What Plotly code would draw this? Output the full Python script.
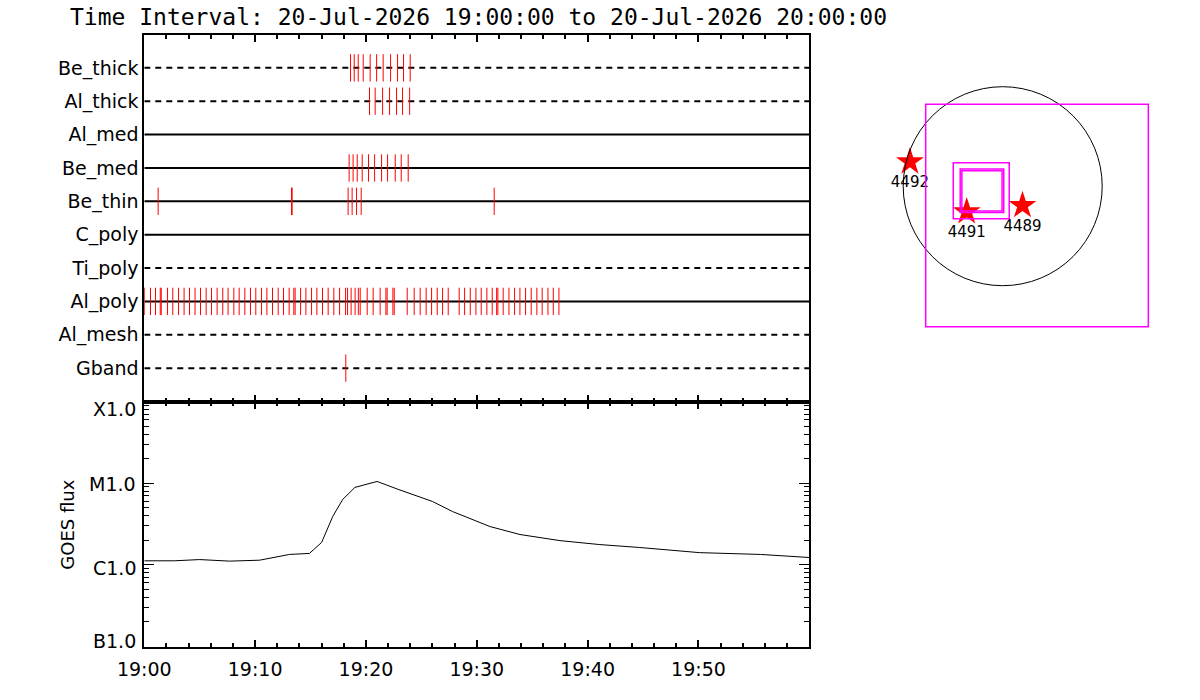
import math
import plotly.graph_objects as go

# ---------------- data ----------------
title_text = "Time Interval: 20-Jul-2026 19:00:00 to 20-Jul-2026 20:00:00"
channels = ["Be_thick", "Al_thick", "Al_med", "Be_med", "Be_thin",
            "C_poly", "Ti_poly", "Al_poly", "Al_mesh", "Gband"]

# event times, minutes after 19:00
ev_be_thick = [18.61, 18.94, 19.30, 19.75, 20.38, 20.96, 21.55, 22.22, 22.85, 23.39, 23.99]
ev_al_thick = [20.32, 20.83, 21.50, 22.13, 22.76, 23.30, 23.94]
ev_al_med = []
ev_be_med = [18.48, 18.84, 19.21, 19.66, 20.23, 20.78, 21.41, 21.95, 22.64, 23.18, 23.81]
ev_be_thin = [1.25, 13.28, 13.34, 18.39, 18.75, 19.15, 19.57, 31.57]
ev_c_poly = []
ev_ti_poly = []
ev_al_poly = [0.02, 0.56, 1.01, 1.44, 1.53, 2.09, 2.57, 3.09, 3.59, 4.08, 4.58, 5.07,
              5.58, 6.06, 6.57, 7.08, 7.56, 8.08, 8.56, 9.07, 9.58, 10.06, 10.58,
              11.06, 11.57, 12.08, 12.56, 13.07, 13.49, 13.61, 14.10, 14.58, 15.09,
              15.57, 16.08, 16.59, 17.10, 17.62, 18.16, 18.34, 18.66, 19.02, 19.31,
              19.48, 20.11, 20.65, 21.28, 21.80, 21.91, 22.43, 22.55, 23.72, 24.35,
              24.89, 25.43, 25.92, 26.43, 26.91, 27.42, 28.41, 28.90, 29.41, 29.92,
              30.40, 30.91, 31.39, 31.79, 31.90, 32.38, 32.90, 33.41, 33.89, 34.40,
              34.91, 35.42, 35.90, 36.42, 36.90, 37.41]
ev_al_mesh = []
ev_gband = [18.18]

events = [ev_be_thick, ev_al_thick, ev_al_med, ev_be_med, ev_be_thin,
          ev_c_poly, ev_ti_poly, ev_al_poly, ev_al_mesh, ev_gband]

# GOES flux
goes_t = [0, 2.7, 5.0, 7.7, 10.4, 13.1, 14.9, 16.0, 17.0, 17.9, 19.0, 21.0,
          22.9, 26.0, 27.8, 31.2, 33.9, 37.5, 41.1, 44.7, 50.1, 55.6, 60]
goes_flux = [1.12e-6, 1.12e-6, 1.16e-6, 1.11e-6, 1.14e-6, 1.34e-6, 1.38e-6,
             1.88e-6, 3.91e-6, 6.32e-6, 8.87e-6, 1.05e-5, 8.40e-6, 5.97e-6,
             4.50e-6, 2.94e-6, 2.35e-6, 1.98e-6, 1.77e-6, 1.63e-6, 1.41e-6,
             1.34e-6, 1.23e-6]

time_tick_vals = [0, 10, 20, 30, 40, 50]
time_tick_text = ["19:00", "19:10", "19:20", "19:30", "19:40", "19:50"]
goes_tick_vals = [1e-7, 1e-6, 1e-5, 1e-4]
goes_tick_text = ["B1.0", "C1.0", "M1.0", "X1.0"]

# solar map (arcsec)
sun_radius = 960
fov_center = (331, -283)
fov_size = 2148
box_centers = [(-207, -44), (-200, -43), (-200, -45)]
box_sizes = [540, 420, 388]
ar_numbers = ["4492", "4491", "4489"]
ar_x = [-895, -347, 191]
ar_y = [236, -246, -186]

# ---------------- styles / layout ----------------
row_dash = ["6px,5px", "6px,5px", "solid", "solid", "solid",
            "solid", "6px,5px", "solid", "6px,5px", "6px,5px"]
goes_label_shift = [6, -3, -1, -7]   # IDL keeps end labels inside the axis
FONT = "DejaVu Sans"
W, H = 1200, 700


def fx(px):
    return px / W


def fy(py):
    return 1 - py / H


px_x0, px_x1 = 144.3, 809.3
py_top, py_mid, py_bot = 34.5, 401.5, 646.5

xdom = [fx(px_x0), fx(px_x1)]
ydom_top = [fy(py_mid), fy(py_top)]
ydom_goes = [fy(py_bot), fy(py_mid)]

fig = go.Figure()

for k, name in enumerate(channels):
    fig.add_trace(go.Scatter(x=[0, 60], y=[k, k], mode="lines",
                             line=dict(color="black", width=2, dash=row_dash[k]),
                             xaxis="x", yaxis="y", showlegend=False, hoverinfo="skip"))
    xs, ys = [], []
    for t in events[k]:
        xs += [t, t, None]
        ys += [k - 0.41, k + 0.41, None]
    if xs:
        fig.add_trace(go.Scatter(x=xs, y=ys, mode="lines",
                                 line=dict(color="#ff0000", width=1),
                                 xaxis="x", yaxis="y", showlegend=False, hoverinfo="skip"))

fig.add_trace(go.Scatter(x=goes_t, y=goes_flux, mode="lines",
                         line=dict(color="black", width=1),
                         xaxis="x2", yaxis="y2", showlegend=False))

fig.add_trace(go.Scatter(x=ar_x, y=ar_y, mode="markers+text", text=ar_numbers,
                         textposition="bottom center",
                         textfont=dict(family=FONT, size=15, color="black"),
                         marker=dict(symbol="star", size=21, color="#ff0000",
                                     line=dict(width=0)),
                         xaxis="x3", yaxis="y3", showlegend=False))

shapes = [dict(type="circle", xref="x3", yref="y3",
               x0=-sun_radius, x1=sun_radius, y0=-sun_radius, y1=sun_radius,
               line=dict(color="black", width=1))]
shapes.append(dict(type="rect", xref="x3", yref="y3",
                   x0=fov_center[0] - fov_size / 2, x1=fov_center[0] + fov_size / 2,
                   y0=fov_center[1] - fov_size / 2, y1=fov_center[1] + fov_size / 2,
                   line=dict(color="#ff00ff", width=1.5)))
for (cx, cy), s in zip(box_centers, box_sizes):
    shapes.append(dict(type="rect", xref="x3", yref="y3",
                       x0=cx - s / 2, x1=cx + s / 2, y0=cy - s / 2, y1=cy + s / 2,
                       line=dict(color="#ff00ff", width=1.5)))

tickfont = dict(family=FONT, size=19, color="black")
common_x = dict(domain=xdom, range=[0, 60], showline=True, linewidth=2, linecolor="black",
                mirror="ticks", ticks="inside", ticklen=7, tickwidth=2, tickcolor="black",
                showgrid=False, zeroline=False, tickvals=time_tick_vals,
                minor=dict(ticks="inside", ticklen=4, tickwidth=2, tickcolor="black",
                           dtick=2, tick0=0, showgrid=False),
                automargin=False, tickfont=tickfont)

# right panel coordinate range (equal scale, arcsec per pixel)
scale = 9.648
map_px = (880, 1180, 60, 360)
map_dom_x = [fx(map_px[0]), fx(map_px[1])]
map_dom_y = [fy(map_px[3]), fy(map_px[2])]
map_xr = [(map_px[0] - 1002.7) * scale, (map_px[1] - 1002.7) * scale]
map_yr = [(186.2 - map_px[3]) * scale, (186.2 - map_px[2]) * scale]

annotations = [
    dict(text=title_text, xref="paper", yref="paper", x=fx(68), y=fy(17),
         xanchor="left", yanchor="middle", showarrow=False,
         font=dict(family="DejaVu Sans Mono", size=23, color="black")),
    dict(text="GOES flux", xref="paper", yref="paper", x=fx(66.7), y=fy(525),
         xanchor="center", yanchor="middle", textangle=-90, showarrow=False,
         font=dict(family=FONT, size=18, color="black")),
]
for v, txt, sh in zip(goes_tick_vals, goes_tick_text, goes_label_shift):
    annotations.append(dict(text=txt, xref="paper", yref="y2", x=fx(px_x0 - 6),
                            y=math.log10(v), yshift=sh, xanchor="right",
                            yanchor="middle", showarrow=False, font=tickfont))

fig.update_layout(
    width=W, height=H, margin=dict(l=0, r=0, t=0, b=0),
    paper_bgcolor="white", plot_bgcolor="white", template="none",
    font=dict(family=FONT, color="black"),
    xaxis=dict(**common_x, anchor="y", showticklabels=False),
    yaxis=dict(domain=ydom_top, range=[10, -1], tickvals=list(range(len(channels))),
               ticktext=channels, ticks="", showline=True, linewidth=2, linecolor="black",
               mirror=True, showgrid=False, zeroline=False, automargin=False,
               tickfont=tickfont, ticklabelstandoff=0, anchor="x"),
    xaxis2=dict(**common_x, anchor="y2", ticktext=time_tick_text, ticklabelstandoff=5),
    yaxis2=dict(domain=ydom_goes, type="log", range=[-7, -4], tickvals=goes_tick_vals,
                showticklabels=False, ticks="inside", ticklen=10, tickwidth=1,
                tickcolor="black", showline=True, linewidth=2, linecolor="black",
                mirror="ticks", showgrid=False, zeroline=False, automargin=False,
                anchor="x2",
                minor=dict(ticks="inside", ticklen=5, tickwidth=1, tickcolor="black",
                           dtick="D1", showgrid=False)),
    xaxis3=dict(domain=map_dom_x, range=map_xr, visible=False, anchor="y3"),
    yaxis3=dict(domain=map_dom_y, range=map_yr, visible=False, anchor="x3"),
    shapes=shapes,
    annotations=annotations,
)

fig.write_html("out.html", config={"displayModeBar": False},
               post_script="document.body.style.margin='0px';")
